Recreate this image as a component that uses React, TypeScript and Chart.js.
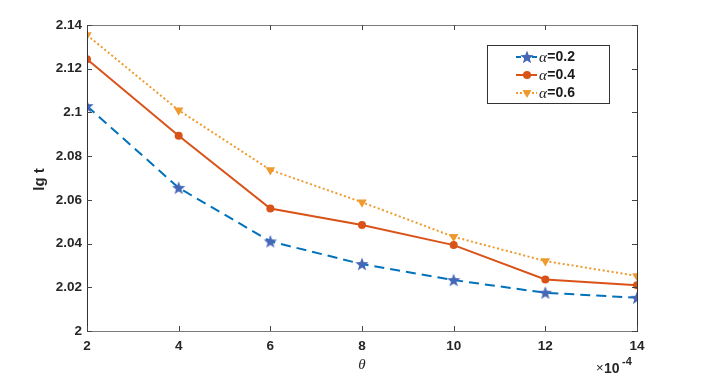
import React, { useEffect, useRef } from "react";
import { Chart, registerables } from "chart.js";

Chart.register(...registerables);

const thetaValues = [2, 4, 6, 8, 10, 12, 14];
const seriesA02 = [2.1029, 2.0655, 2.041, 2.0306, 2.0233, 2.0175, 2.0152];
const seriesA04 = [2.1243, 2.0893, 2.056, 2.0485, 2.0393, 2.0236, 2.0209];
const seriesA06 = [2.1354, 2.101, 2.0737, 2.0589, 2.0431, 2.032, 2.0252];
const seriesLabels = ["0.2", "0.4", "0.6"];
const yTicks = [2, 2.02, 2.04, 2.06, 2.08, 2.1, 2.12, 2.14];

const BLUE_LINE = "#0072BD";
const BLUE_MARK = "#4667B8";
const RED = "#D95319";
const ORANGE = "#EE9A2E";

function makeStar(r: number, color: string): HTMLCanvasElement {
  const size = Math.ceil(r * 2 + 2);
  const c = document.createElement("canvas");
  c.width = size;
  c.height = size;
  const ctx = c.getContext("2d")!;
  const cx = size / 2;
  const cy = size / 2 + 0.5;
  const inner = r * 0.42;
  ctx.beginPath();
  for (let i = 0; i < 10; i++) {
    const rad = i % 2 === 0 ? r : inner;
    const a = -Math.PI / 2 + (i * Math.PI) / 5;
    const x = cx + rad * Math.cos(a);
    const y = cy + rad * Math.sin(a);
    if (i === 0) ctx.moveTo(x, y);
    else ctx.lineTo(x, y);
  }
  ctx.closePath();
  ctx.fillStyle = color;
  ctx.fill();
  return c;
}

export default function App() {
  const ref = useRef<HTMLCanvasElement>(null);

  useEffect(() => {
    if (!ref.current) return;
    const star = makeStar(7, BLUE_MARK);

    const decor = {
      id: "decor",
      afterDraw(chart: any) {
        const ctx = chart.ctx;
        const { left, right, top, bottom } = chart.chartArea;
        const xs = chart.scales.x;
        const ys = chart.scales.y;
        ctx.save();
        // box
        ctx.lineWidth = 1;
        ctx.strokeStyle = "#7a7a7a";
        ctx.beginPath();
        ctx.moveTo(left, Math.round(top) + 0.5);
        ctx.lineTo(right, Math.round(top) + 0.5);
        ctx.moveTo(left, Math.round(bottom) + 0.5);
        ctx.lineTo(right, Math.round(bottom) + 0.5);
        ctx.stroke();
        ctx.strokeStyle = "#333";
        ctx.beginPath();
        ctx.moveTo(Math.round(left) + 0.5, top);
        ctx.lineTo(Math.round(left) + 0.5, bottom + 1);
        ctx.moveTo(Math.round(right) + 0.5, top);
        ctx.lineTo(Math.round(right) + 0.5, bottom + 1);
        ctx.stroke();
        // ticks
        const tl = 5;
        ctx.strokeStyle = "#444";
        ctx.beginPath();
        thetaValues.forEach((v) => {
          const x = Math.round(xs.getPixelForValue(v)) + 0.5;
          ctx.moveTo(x, bottom);
          ctx.lineTo(x, bottom - tl);
          ctx.moveTo(x, top);
          ctx.lineTo(x, top + tl);
        });
        yTicks.forEach((v) => {
          const y = Math.round(ys.getPixelForValue(v)) + 0.5;
          ctx.moveTo(left, y);
          ctx.lineTo(left + tl, y);
          ctx.moveTo(right, y);
          ctx.lineTo(right - tl, y);
        });
        ctx.stroke();

        // axis titles
        ctx.fillStyle = "#262626";
        ctx.save();
        ctx.translate(40, 179.5);
        ctx.rotate(-Math.PI / 2);
        ctx.font = "bold 15px 'Liberation Sans', Arial, sans-serif";
        ctx.textAlign = "center";
        ctx.textBaseline = "middle";
        ctx.fillText("lg t", 0, 0);
        ctx.restore();

        ctx.font = "italic 15px 'Liberation Serif', 'Times New Roman', serif";
        ctx.textAlign = "center";
        ctx.textBaseline = "middle";
        ctx.fillText("θ", (left + right) / 2, 365);

        // x10^-4
        ctx.textAlign = "left";
        ctx.textBaseline = "alphabetic";
        ctx.font = "13px 'Liberation Sans', Arial, sans-serif";
        ctx.fillText("×", 596, 372);
        ctx.font = "bold 14px 'Liberation Sans', Arial, sans-serif";
        ctx.fillText("10", 604, 372.5);
        ctx.font = "bold 11px 'Liberation Sans', Arial, sans-serif";
        ctx.fillText("-4", 622, 365);

        // legend
        const lx = 487, ly = 45, lw = 122, lh = 58;
        ctx.fillStyle = "#fff";
        ctx.fillRect(lx, ly, lw, lh);
        ctx.strokeStyle = "#333";
        ctx.lineWidth = 1;
        ctx.strokeRect(lx + 0.5, ly + 0.5, lw, lh);
        const rows = [
          { y: 57, color: BLUE_LINE, dash: [5, 3], mark: "star", mc: BLUE_MARK },
          { y: 75, color: RED, dash: [], mark: "circle", mc: RED },
          { y: 93, color: ORANGE, dash: [2, 2], mark: "tri", mc: ORANGE },
        ];
        rows.forEach((r, i) => {
          ctx.strokeStyle = r.color;
          ctx.lineWidth = 2;
          ctx.setLineDash(r.dash);
          ctx.beginPath();
          ctx.moveTo(516, r.y);
          ctx.lineTo(537, r.y);
          ctx.stroke();
          ctx.setLineDash([]);
          ctx.fillStyle = r.mc;
          if (r.mark === "star") {
            ctx.drawImage(star, 527 - star.width / 2, r.y - star.height / 2);
          } else if (r.mark === "circle") {
            ctx.beginPath();
            ctx.arc(527, r.y, 4, 0, Math.PI * 2);
            ctx.fill();
          } else {
            ctx.beginPath();
            ctx.moveTo(522.5, r.y - 3);
            ctx.lineTo(531.5, r.y - 3);
            ctx.lineTo(527, r.y + 5);
            ctx.closePath();
            ctx.fill();
          }
          ctx.fillStyle = "#1a1a1a";
          ctx.textBaseline = "middle";
          ctx.font = "italic 15px 'Liberation Serif', 'Times New Roman', serif";
          ctx.fillText("α", 539, r.y + 1);
          const aw = ctx.measureText("α").width;
          ctx.font = "bold 14px 'Liberation Sans', Arial, sans-serif";
          ctx.fillText("=" + seriesLabels[i], 539 + aw + 0.5, r.y);
        });
        ctx.restore();
      },
    };

    const chart = new Chart(ref.current, {
      type: "line",
      data: {
        labels: thetaValues,
        datasets: [
          {
            label: "α=" + seriesLabels[0],
            data: thetaValues.map((x, i) => ({ x, y: seriesA02[i] })),
            borderColor: BLUE_LINE,
            borderWidth: 2,
            borderDash: [10, 6],
            pointStyle: star as any,
            pointRadius: 7,
            backgroundColor: BLUE_MARK,
            tension: 0,
          },
          {
            label: "α=" + seriesLabels[1],
            data: thetaValues.map((x, i) => ({ x, y: seriesA04[i] })),
            borderColor: RED,
            borderWidth: 2,
            pointStyle: "circle",
            pointRadius: 4,
            pointBorderWidth: 0,
            backgroundColor: RED,
            pointBackgroundColor: RED,
            tension: 0,
          },
          {
            label: "α=" + seriesLabels[2],
            data: thetaValues.map((x, i) => ({ x, y: seriesA06[i] })),
            borderColor: ORANGE,
            borderWidth: 2,
            borderDash: [2, 2.5],
            pointStyle: "triangle",
            pointRotation: 180,
            pointRadius: 5.5,
            pointBorderWidth: 0,
            backgroundColor: ORANGE,
            pointBackgroundColor: ORANGE,
            tension: 0,
          },
        ],
      },
      options: {
        responsive: false,
        animation: false,
        layout: { padding: { left: 0, right: 83, top: 25, bottom: 0 } },
        plugins: { legend: { display: false }, tooltip: { enabled: false } },
        scales: {
          x: {
            type: "linear",
            min: 2,
            max: 14,
            grid: { display: false, drawTicks: false },
            border: { display: false },
            afterFit: (s: any) => { s.height = 48; },
            afterBuildTicks: (s: any) => { s.ticks = thetaValues.map((v) => ({ value: v })); },
            ticks: {
              padding: 7,
              color: "#262626",
              font: { family: "'Liberation Sans', Arial, sans-serif", size: 13.5, weight: "bold" },
              maxRotation: 0,
              callback: (v: any) => String(v),
            },
          },
          y: {
            type: "linear",
            min: 2,
            max: 2.14,
            grid: { display: false, drawTicks: false },
            border: { display: false },
            afterFit: (s: any) => { s.width = 87; },
            afterBuildTicks: (s: any) => { s.ticks = yTicks.map((v) => ({ value: v })); },
            ticks: {
              padding: 5,
              color: "#262626",
              font: { family: "'Liberation Sans', Arial, sans-serif", size: 13.5, weight: "bold" },
              callback: (v: any) => String(Number(Number(v).toFixed(2))),
            },
          },
        },
      },
      plugins: [decor],
    });
    return () => chart.destroy();
  }, []);

  return (
    <div style={{ position: "absolute", left: 0, top: 0, width: 720, height: 379, background: "#fff" }}>
      <canvas ref={ref} width={720} height={379} style={{ display: "block" }} />
    </div>
  );
}
